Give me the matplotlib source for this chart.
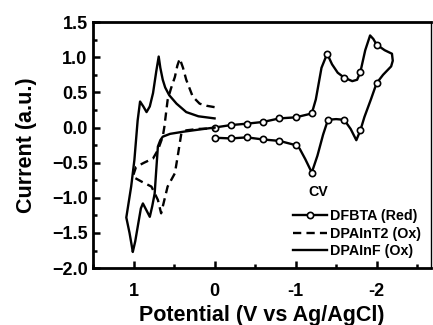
import matplotlib
matplotlib.use("Agg")
from matplotlib import pyplot as plt
from matplotlib.ticker import MultipleLocator

# DFBTA (Red) - reduction scan, markers every 0.2 V
x_red = [0.00, -0.20, -0.40, -0.60, -0.80, -1.00, -1.20, -1.25, -1.32, -1.39,
         -1.45, -1.52, -1.60, -1.70, -1.76, -1.80, -1.86, -1.92, -1.96, -2.00,
         -2.10, -2.19, -2.20, -2.18, -2.08, -2.00, -1.93, -1.85, -1.80, -1.75,
         -1.68, -1.60, -1.50, -1.40, -1.34, -1.27, -1.20, -1.12, -1.05, -1.00,
         -0.80, -0.60, -0.40, -0.20, 0.00]
y_red = [0.00, 0.035, 0.055, 0.08, 0.13, 0.145, 0.20, 0.40, 0.85, 1.05,
         0.90, 0.78, 0.71, 0.66, 0.68, 0.79, 1.10, 1.31, 1.26, 1.18,
         1.10, 1.05, 0.95, 0.87, 0.75, 0.63, 0.40, 0.15, -0.04, -0.18,
         -0.02, 0.11, 0.12, 0.11, -0.10, -0.40, -0.64, -0.45, -0.30, -0.25,
         -0.19, -0.17, -0.14, -0.155, -0.145]
red_marks = [0, 1, 2, 3, 4, 5, 6, 9, 12, 15, 19, 25, 28, 31, 33, 36, 39, 40, 41, 42, 43, 44]

# DPAInT2 (Ox) - dashed
x_t2 = [0.00, 0.10, 0.185, 0.27, 0.35, 0.39, 0.43, 0.46, 0.49, 0.54,
        0.58, 0.62, 0.64, 0.70, 0.76, 0.87, 0.97, 1.01, 0.90, 0.78,
        0.70, 0.66, 0.62, 0.58, 0.49, 0.45, 0.41, 0.35, 0.20, 0.00]
y_t2 = [0.29, 0.31, 0.34, 0.44, 0.68, 0.85, 0.98, 0.88, 0.72, 0.55,
        0.39, 0.01, -0.13, -0.32, -0.44, -0.50, -0.56, -0.70, -0.77, -0.84,
        -1.03, -1.22, -1.03, -0.84, -0.65, -0.37, -0.08, -0.04, -0.02, -0.01]

# DPAInF (Ox) - solid
x_f = [0.00, 0.20, 0.35, 0.47, 0.56, 0.61, 0.64, 0.67, 0.69, 0.72,
       0.76, 0.80, 0.84, 0.88, 0.92, 0.95, 0.99, 1.03, 1.09, 1.05,
       1.02, 1.01, 0.98, 0.94, 0.91, 0.885, 0.84, 0.80, 0.77, 0.74,
       0.72, 0.70, 0.67, 0.64, 0.55, 0.39, 0.20, 0.00]
y_f = [0.13, 0.16, 0.22, 0.34, 0.46, 0.57, 0.68, 0.85, 1.01, 0.80,
       0.49, 0.30, 0.22, 0.30, 0.37, 0.10, -0.46, -0.84, -1.28, -1.50,
       -1.70, -1.77, -1.62, -1.35, -1.15, -1.08, -1.18, -1.27, -1.12, -0.94,
       -0.60, -0.27, -0.18, -0.13, -0.09, -0.06, -0.03, 0.00]

plt.rcParams['font.family'] = ['Liberation Sans', 'DejaVu Sans']
plt.rcParams['font.weight'] = 'bold'

fig = plt.figure(figsize=(4.33, 3.25), dpi=100)
ax = fig.add_axes([0.215, 0.175, 0.78, 0.757])

ax.plot(x_red, y_red, color='black', lw=1.7, marker='o', markersize=4.5,
        markerfacecolor='white', markeredgewidth=1.2, markevery=red_marks,
        label='DFBTA (Red)')
ax.plot(x_t2, y_t2, color='black', lw=1.7, ls=(0, (3.5, 2.2)), label='DPAInT2 (Ox)')
ax.plot(x_f, y_f, color='black', lw=1.7, label='DPAInF (Ox)')

ax.set_xlim(1.5, -2.67)
ax.set_ylim(-2.0, 1.5)
ax.xaxis.set_major_locator(MultipleLocator(1))
ax.xaxis.set_minor_locator(MultipleLocator(0.5))
ax.yaxis.set_major_locator(MultipleLocator(0.5))
ax.yaxis.set_minor_locator(MultipleLocator(0.25))
ax.tick_params(which='both', direction='in', top=False, right=False, width=1.8,
               labelsize=13)
ax.tick_params(which='major', length=5)
ax.tick_params(which='minor', length=3)
ax.tick_params(axis='x', which='both', pad=11)
ax.tick_params(axis='y', which='both', pad=4)
for s in ['left', 'bottom', 'top']:
    ax.spines[s].set_linewidth(2)
ax.spines['right'].set_linewidth(1)

ax.set_xticks([1, 0, -1, -2])
ax.set_xticklabels(['1', '0', '-1', '-2'])
ax.set_xlabel('Potential (V vs Ag/AgCl)', fontsize=15.5, fontweight='bold', labelpad=3)
ax.set_ylabel('Current (a.u.)', fontsize=15.5, fontweight='bold', labelpad=11)

leg = ax.legend(loc='lower right', bbox_to_anchor=(1.0, 0.0),
                frameon=False, fontsize=10.3, handlelength=2.35,
                handletextpad=0.2, labelspacing=0.25, borderaxespad=0.3)
ax.text(0.666, 0.31, 'CV', transform=ax.transAxes, fontsize=10.3,
        fontweight='bold', ha='center', va='center')

fig.savefig('out.png', dpi=100)
